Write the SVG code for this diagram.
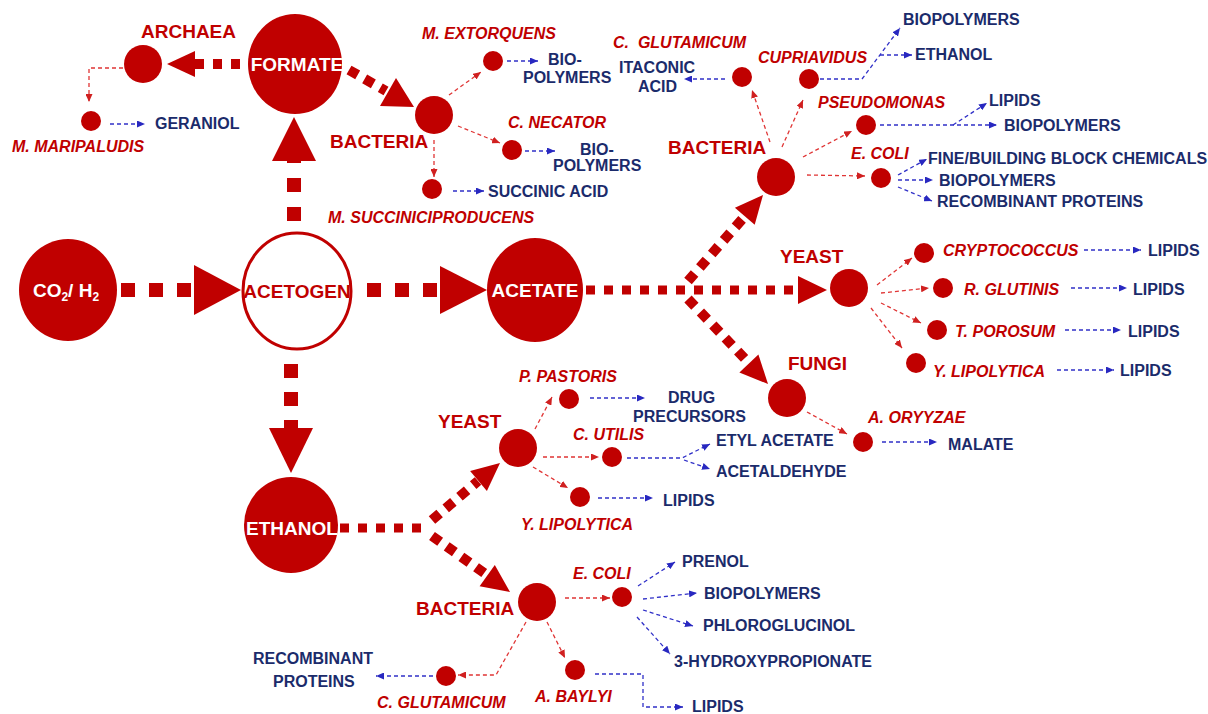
<svg xmlns="http://www.w3.org/2000/svg" width="1208" height="714" viewBox="0 0 1208 714">
<style>
text{font-family:"Liberation Sans",Arial,sans-serif;font-weight:bold}
.big{font-size:19px;fill:#C00000}
.sp{font-size:16px;font-style:italic;fill:#C00000}
.pr{font-size:16px;fill:#1B2B6B}
.nt{font-size:19px;fill:#fff;text-anchor:middle}
.dot{fill:#C00000}
.thick{stroke:#C00000;fill:none}
.tri{fill:#C00000}
.rd{stroke:#E03535;stroke-width:1.3;stroke-dasharray:4 3;fill:none;marker-end:url(#ar)}
.bl{stroke:#3030C8;stroke-width:1.3;stroke-dasharray:4 3;fill:none;marker-end:url(#ab)}
</style>
<defs>
<marker id="ar" viewBox="0 0 8 7" refX="8" refY="3.5" markerWidth="8" markerHeight="7" markerUnits="userSpaceOnUse" orient="auto"><path d="M0,0 L8,3.5 L0,7 z" fill="#D02020"/></marker>
<marker id="ab" viewBox="0 0 8 7" refX="8" refY="3.5" markerWidth="8" markerHeight="7" markerUnits="userSpaceOnUse" orient="auto"><path d="M0,0 L8,3.5 L0,7 z" fill="#2828C0"/></marker>
</defs>
<rect width="1208" height="714" fill="#fff"/>

<g id="connectors">
<line class="thick" x1="121" y1="290" x2="193" y2="290" stroke-width="14" stroke-dasharray="14 14"/>
<polygon class="tri" points="194,265 194,315 241,290"/>
<line class="thick" x1="367" y1="290" x2="439" y2="290" stroke-width="14" stroke-dasharray="14 14"/>
<polygon class="tri" points="440,266 440,314 487,290"/>
<line class="thick" x1="294" y1="221" x2="294" y2="157" stroke-width="14" stroke-dasharray="14 15 14 15 8 100"/>
<polygon class="tri" points="272,161 316,161 294,117"/>
<line class="thick" x1="291" y1="364" x2="291" y2="432" stroke-width="14" stroke-dasharray="14 14 14 14 12 100"/>
<polygon class="tri" points="269,428 313,428 291,473"/>
<line class="thick" x1="240" y1="64" x2="195" y2="64" stroke-width="10" stroke-dasharray="9 9"/>
<polygon class="tri" points="195,51 195,77 167,64"/>
<line class="thick" x1="349" y1="70" x2="386" y2="91" stroke-width="10" stroke-dasharray="10 8"/>
<polygon class="tri" points="380,106 396,78 414,107"/>
<line class="thick" x1="586" y1="290" x2="797" y2="290" stroke-width="9" stroke-dasharray="9 9"/>
<polygon class="tri" points="798,276 798,304 827,290"/>
<line class="thick" x1="688" y1="281" x2="745" y2="216" stroke-width="10" stroke-dasharray="10 8"/>
<polygon class="tri" points="734.9,207.8 754.7,224.8 763,195"/>
<line class="thick" x1="688" y1="299" x2="749" y2="363" stroke-width="10" stroke-dasharray="10 8"/>
<polygon class="tri" points="739.4,372.4 758.4,354.6 768,384"/>
<line class="thick" x1="340" y1="528" x2="430" y2="528" stroke-width="9" stroke-dasharray="9 9"/>
<line class="thick" x1="432" y1="520" x2="478" y2="481" stroke-width="10" stroke-dasharray="10 8"/>
<polygon class="tri" points="470.1,471 486.9,491 500,463"/>
<line class="thick" x1="432" y1="536" x2="487" y2="575" stroke-width="10" stroke-dasharray="10 8"/>
<polygon class="tri" points="479.6,586.3 494.8,565.1 510,592"/>
<polyline class="rd" points="123,68 89,68 89,102"/>
<line class="rd" x1="449" y1="95" x2="481" y2="72"/>
<line class="rd" x1="458" y1="126" x2="500" y2="143"/>
<line class="rd" x1="434" y1="140" x2="434" y2="177"/>
<line class="rd" x1="770" y1="142" x2="752" y2="90"/>
<line class="rd" x1="782" y1="147" x2="803" y2="100"/>
<line class="rd" x1="803" y1="157" x2="852" y2="131"/>
<line class="rd" x1="807" y1="175" x2="865" y2="176"/>
<line class="rd" x1="877" y1="285" x2="912" y2="258"/>
<line class="rd" x1="881" y1="293" x2="929" y2="288"/>
<line class="rd" x1="881" y1="303" x2="921" y2="323"/>
<line class="rd" x1="871" y1="308" x2="902" y2="348"/>
<line class="rd" x1="807" y1="412" x2="847" y2="434"/>
<line class="rd" x1="535" y1="429" x2="552" y2="397"/>
<line class="rd" x1="543" y1="457" x2="599" y2="457"/>
<line class="rd" x1="533" y1="467" x2="568" y2="488"/>
<line class="rd" x1="565" y1="598" x2="610" y2="598"/>
<polyline class="rd" points="526,622 496,675 458,675"/>
<line class="rd" x1="547" y1="622" x2="565" y2="658"/>
<line class="bl" x1="110" y1="124" x2="145" y2="124"/>
<line class="bl" x1="507" y1="61" x2="538" y2="61"/>
<line class="bl" x1="525" y1="151" x2="555" y2="151"/>
<line class="bl" x1="453" y1="191" x2="484" y2="191"/>
<line class="bl" x1="725" y1="79" x2="684" y2="79"/>
<polyline class="bl" points="820,79 862,79 900,28"/>
<line class="bl" x1="880" y1="55" x2="912" y2="55"/>
<line class="bl" x1="880" y1="125" x2="997" y2="125"/>
<line class="bl" x1="953" y1="125" x2="987" y2="103"/>
<line class="bl" x1="898" y1="175" x2="927" y2="159"/>
<line class="bl" x1="898" y1="180" x2="933" y2="180"/>
<line class="bl" x1="898" y1="187" x2="932" y2="201"/>
<line class="bl" x1="1084" y1="250" x2="1141" y2="250"/>
<line class="bl" x1="1071" y1="288" x2="1127" y2="288"/>
<line class="bl" x1="1065" y1="330" x2="1121" y2="330"/>
<line class="bl" x1="1057" y1="370" x2="1114" y2="370"/>
<line class="bl" x1="882" y1="442" x2="937" y2="442"/>
<line class="bl" x1="590" y1="398" x2="645" y2="398"/>
<polyline class="bl" points="627,458 682,458 710,444"/>
<line class="bl" x1="684" y1="460" x2="710" y2="469"/>
<line class="bl" x1="598" y1="498" x2="653" y2="498"/>
<line class="bl" x1="638" y1="586" x2="675" y2="562"/>
<line class="bl" x1="643" y1="599" x2="697" y2="593"/>
<line class="bl" x1="643" y1="610" x2="693" y2="626"/>
<line class="bl" x1="637" y1="617" x2="670" y2="654"/>
<polyline class="bl" points="595,674 643,674 643,707 683,707"/>
<line class="bl" x1="433" y1="676" x2="376" y2="676"/>
</g>

<g id="co2h2"><ellipse cx="68" cy="290" rx="49" ry="51" class="dot"/><text class="nt" x="66" y="297">CO<tspan font-size="12" dy="4">2</tspan><tspan dy="-4">/ H</tspan><tspan font-size="12" dy="4">2</tspan></text></g>
<g id="acetogen"><ellipse cx="297" cy="291" rx="54" ry="58" fill="#fff" stroke="#C00000" stroke-width="3"/><text class="nt" x="297" y="298" style="fill:#C00000">ACETOGEN</text></g>
<g id="acetate"><ellipse cx="535" cy="290" rx="48" ry="52" class="dot"/><text class="nt" x="535" y="297">ACETATE</text></g>
<g id="formate"><ellipse cx="295" cy="64" rx="47" ry="50" class="dot"/><text class="nt" x="297" y="71">FORMATE</text></g>
<g id="ethanol"><ellipse cx="291" cy="525" rx="47" ry="48" class="dot"/><text class="nt" x="292" y="535">ETHANOL</text></g>

<g id="archaea"><circle cx="143" cy="64" r="19" class="dot"/><text class="big" x="141" y="38">ARCHAEA</text></g>
<g id="m-maripaludis"><circle cx="91" cy="121" r="10" class="dot"/><text class="sp" x="12" y="152">M. MARIPALUDIS</text><text class="pr" x="155" y="129">GERANIOL</text></g>

<g id="bacteria-formate"><circle cx="434" cy="115" r="19" class="dot"/><text class="big" x="330" y="148">BACTERIA</text></g>
<g id="m-extorquens"><circle cx="493" cy="61" r="10" class="dot"/><text class="sp" x="422" y="39">M. EXTORQUENS</text><text class="pr" x="548" y="65">BIO-</text><text class="pr" x="523" y="83">POLYMERS</text></g>
<g id="c-necator"><circle cx="512" cy="150" r="10" class="dot"/><text class="sp" x="508" y="128">C. NECATOR</text><text class="pr" x="580" y="155">BIO-</text><text class="pr" x="553" y="171">POLYMERS</text></g>
<g id="m-succ"><circle cx="432" cy="189" r="10" class="dot"/><text class="sp" x="328" y="223">M. SUCCINICIPRODUCENS</text><text class="pr" x="488" y="197">SUCCINIC ACID</text></g>

<g id="bacteria-acetate"><circle cx="776" cy="177" r="19" class="dot"/><text class="big" x="668" y="154">BACTERIA</text></g>
<g id="c-glutamicum-top"><circle cx="742" cy="77" r="10" class="dot"/><text class="sp" x="613" y="48" xml:space="preserve">C.  GLUTAMICUM</text><text class="pr" x="619" y="73">ITACONIC</text><text class="pr" x="638" y="92">ACID</text></g>
<g id="cupriavidus"><circle cx="809" cy="79" r="10" class="dot"/><text class="sp" x="758" y="63">CUPRIAVIDUS</text><text class="pr" x="903" y="25">BIOPOLYMERS</text><text class="pr" x="915" y="60">ETHANOL</text></g>
<g id="pseudomonas"><circle cx="866" cy="125" r="10" class="dot"/><text class="sp" x="818" y="108">PSEUDOMONAS</text><text class="pr" x="989" y="106">LIPIDS</text><text class="pr" x="1004" y="131">BIOPOLYMERS</text></g>
<g id="e-coli-top"><circle cx="881" cy="178" r="10" class="dot"/><text class="sp" x="851" y="159">E. COLI</text><text class="pr" x="928" y="164">FINE/BUILDING BLOCK CHEMICALS</text><text class="pr" x="939" y="186">BIOPOLYMERS</text><text class="pr" x="937" y="207">RECOMBINANT PROTEINS</text></g>

<g id="yeast-acetate"><circle cx="849" cy="288" r="19" class="dot"/><text class="big" x="780" y="263">YEAST</text></g>
<g id="cryptococcus"><circle cx="924" cy="253" r="10" class="dot"/><text class="sp" x="943" y="256">CRYPTOCOCCUS</text><text class="pr" x="1148" y="256">LIPIDS</text></g>
<g id="r-glutinis"><circle cx="943" cy="288" r="10" class="dot"/><text class="sp" x="964" y="295">R. GLUTINIS</text><text class="pr" x="1133" y="295">LIPIDS</text></g>
<g id="t-porosum"><circle cx="937" cy="330" r="10" class="dot"/><text class="sp" x="955" y="337">T. POROSUM</text><text class="pr" x="1128" y="337">LIPIDS</text></g>
<g id="y-lipolytica-acetate"><circle cx="916" cy="363" r="10" class="dot"/><text class="sp" x="933" y="377">Y. LIPOLYTICA</text><text class="pr" x="1120" y="376">LIPIDS</text></g>

<g id="fungi"><circle cx="787" cy="398" r="19" class="dot"/><text class="big" x="788" y="370">FUNGI</text></g>
<g id="a-oryyzae"><circle cx="863" cy="442" r="10" class="dot"/><text class="sp" x="868" y="423">A. ORYYZAE</text><text class="pr" x="948" y="450">MALATE</text></g>

<g id="yeast-ethanol"><circle cx="518" cy="448" r="19" class="dot"/><text class="big" x="438" y="428">YEAST</text></g>
<g id="p-pastoris"><circle cx="569" cy="399" r="10" class="dot"/><text class="sp" x="519" y="382">P. PASTORIS</text><text class="pr" x="668" y="403">DRUG</text><text class="pr" x="633" y="422">PRECURSORS</text></g>
<g id="c-utilis"><circle cx="612" cy="457" r="10" class="dot"/><text class="sp" x="573" y="440">C. UTILIS</text><text class="pr" x="716" y="446">ETYL ACETATE</text><text class="pr" x="716" y="477">ACETALDEHYDE</text></g>
<g id="y-lipolytica-ethanol"><circle cx="580" cy="497" r="10" class="dot"/><text class="sp" x="521" y="530">Y. LIPOLYTICA</text><text class="pr" x="663" y="506">LIPIDS</text></g>

<g id="bacteria-ethanol"><circle cx="537" cy="602" r="19" class="dot"/><text class="big" x="416" y="615">BACTERIA</text></g>
<g id="e-coli-bottom"><circle cx="622" cy="597" r="10" class="dot"/><text class="sp" x="573" y="579">E. COLI</text><text class="pr" x="682" y="567">PRENOL</text><text class="pr" x="704" y="599">BIOPOLYMERS</text><text class="pr" x="703" y="631">PHLOROGLUCINOL</text><text class="pr" x="674" y="667">3-HYDROXYPROPIONATE</text></g>
<g id="c-glutamicum-bottom"><circle cx="446" cy="676" r="10" class="dot"/><text class="sp" x="377" y="708">C. GLUTAMICUM</text><text class="pr" x="253" y="664">RECOMBINANT</text><text class="pr" x="273" y="687">PROTEINS</text></g>
<g id="a-baylyi"><circle cx="575" cy="670" r="10" class="dot"/><text class="sp" x="535" y="702">A. BAYLYI</text><text class="pr" x="692" y="712">LIPIDS</text></g>
</svg>
